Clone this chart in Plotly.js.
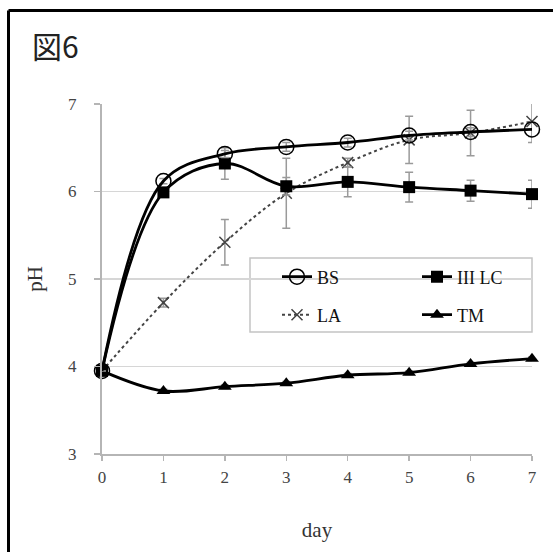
<!DOCTYPE html>
<html>
<head>
<meta charset="utf-8">
<script src="https://cdn.plot.ly/plotly-3.0.1.min.js"></script>
<style>html,body{margin:0;padding:0;background:#fff;}#chart{width:553px;height:552px;}</style>
</head>
<body>
<div id="chart"></div>
<script>
const days = [0, 1, 2, 3, 4, 5, 6, 7];
const tickLabelsX = ['0', '1', '2', '3', '4', '5', '6', '7'];
const tickValsY = [3, 4, 5, 6, 7];

const seriesNames = ['BS', 'III LC', 'LA', 'TM'];
const bsValues = [3.95, 6.12, 6.43, 6.51, 6.56, 6.64, 6.68, 6.71];
const bsErrors = [0, 0.03, 0.04, 0.05, 0.05, 0.05, 0.05, 0.08];
const lcValues = [3.95, 5.99, 6.32, 6.06, 6.11, 6.05, 6.01, 5.97];
const lcErrors = [0, 0.03, 0.18, 0.1, 0.17, 0.17, 0.12, 0.16];
const laValues = [3.95, 4.73, 5.42, 5.98, 6.33, 6.59, 6.67, 6.80];
const laErrors = [0, 0.05, 0.26, 0.4, 0.05, 0.27, 0.26, 0.24];
const tmValues = [3.95, 3.72, 3.77, 3.81, 3.90, 3.93, 4.03, 4.09];
const tmErrors = [0, 0.02, 0.02, 0.02, 0.02, 0.02, 0.02, 0.02];

const serif = 'Liberation Serif, Times New Roman, serif';
const errStyle = (arr) => ({type: 'data', array: arr, visible: true, color: '#9a9a9a', thickness: 1.5, width: 4});

const traces = [
  {x: days, y: laValues, name: seriesNames[2], legend: 'legend3', type: 'scatter', mode: 'lines+markers', cliponaxis: false,
   line: {color: '#444', width: 2, dash: 'dot', shape: 'spline'},
   marker: {symbol: 'x-thin-open', size: 11, line: {color: '#333', width: 1.5}},
   error_y: errStyle(laErrors)},
  {x: days, y: tmValues, name: seriesNames[3], legend: 'legend4', type: 'scatter', mode: 'lines+markers', cliponaxis: false,
   line: {color: '#000', width: 2.8, shape: 'spline'},
   marker: {symbol: 'triangle-up', size: 12, color: '#000'},
   error_y: errStyle(tmErrors)},
  {x: days, y: lcValues, name: seriesNames[1], legend: 'legend2', type: 'scatter', mode: 'lines+markers', cliponaxis: false,
   line: {color: '#000', width: 2.8, shape: 'spline'},
   marker: {symbol: 'square', size: 12, color: '#000'},
   error_y: errStyle(lcErrors)},
  {x: days, y: bsValues, name: seriesNames[0], legend: 'legend', type: 'scatter', mode: 'lines+markers', cliponaxis: false,
   line: {color: '#000', width: 2.8, shape: 'spline'},
   marker: {symbol: 'circle-open', size: 15, line: {color: '#333', width: 1.5}},
   error_y: errStyle(bsErrors)}
];

const W = 553, H = 552, L = 102, R = 21, T = 104, B = 98;
const pw = W - L - R, ph = H - T - B;
const px = (v) => (v - L) / pw;
const py = (v) => (H - B - v) / ph;

const legendBase = {bgcolor: 'rgba(0,0,0,0)', borderwidth: 0, xanchor: 'left', yanchor: 'middle',
  font: {family: serif, size: 18, color: '#111'}};

const layout = {
  width: W, height: H,
  margin: {l: L, r: R, t: T, b: B},
  paper_bgcolor: '#fff', plot_bgcolor: '#fff',
  showlegend: true,
  legend: Object.assign({}, legendBase, {x: px(277), y: py(277)}),
  legend2: Object.assign({}, legendBase, {x: px(417), y: py(277)}),
  legend3: Object.assign({}, legendBase, {x: px(277), y: py(315)}),
  legend4: Object.assign({}, legendBase, {x: px(417), y: py(315)}),
  xaxis: {
    range: [0, 7], tickvals: days, ticktext: tickLabelsX,
    showgrid: false, zeroline: false,
    showline: true, linecolor: '#b5b5b5', linewidth: 2,
    ticks: 'outside', ticklen: 5, tickcolor: '#b5b5b5', tickwidth: 1.5,
    ticklabelstandoff: 2,
    tickfont: {family: serif, size: 17, color: '#444'},
    title: {text: 'day', font: {family: serif, size: 21, color: '#333'}, standoff: 36}
  },
  yaxis: {
    range: [3, 7], tickvals: tickValsY,
    showgrid: true, gridcolor: '#d6d6d6', gridwidth: 1.5, zeroline: false,
    showline: true, linecolor: '#b5b5b5', linewidth: 2,
    ticks: 'outside', ticklen: 6, tickcolor: '#b5b5b5', tickwidth: 1.5,
    ticklabelstandoff: 14,
    tickfont: {family: serif, size: 17, color: '#444'},
    title: {text: 'pH', font: {family: serif, size: 21, color: '#333'}, standoff: 20}
  },
  shapes: [
    {type: 'rect', xref: 'paper', yref: 'paper', x0: px(250), x1: px(532), y0: py(332), y1: py(258),
     line: {color: '#c4c4c4', width: 1.5}, fillcolor: '#fff', layer: 'between'},
    {type: 'line', xref: 'paper', yref: 'paper', x0: px(8.5), x1: px(560), y0: py(10.5), y1: py(10.5),
     line: {color: '#000', width: 3}, layer: 'above'},
    {type: 'line', xref: 'paper', yref: 'paper', x0: px(8.5), x1: px(8.5), y0: py(10.5), y1: py(560),
     line: {color: '#000', width: 3}, layer: 'above'}
  ],
  annotations: [
    {text: '図6', xref: 'paper', yref: 'paper', x: px(30), y: py(45), xanchor: 'left', yanchor: 'middle',
     showarrow: false, font: {family: 'Noto Sans CJK JP', size: 30, color: '#222'}}
  ]
};

Plotly.newPlot('chart', traces, layout, {staticPlot: true, displayModeBar: false});
</script>
</body>
</html>
